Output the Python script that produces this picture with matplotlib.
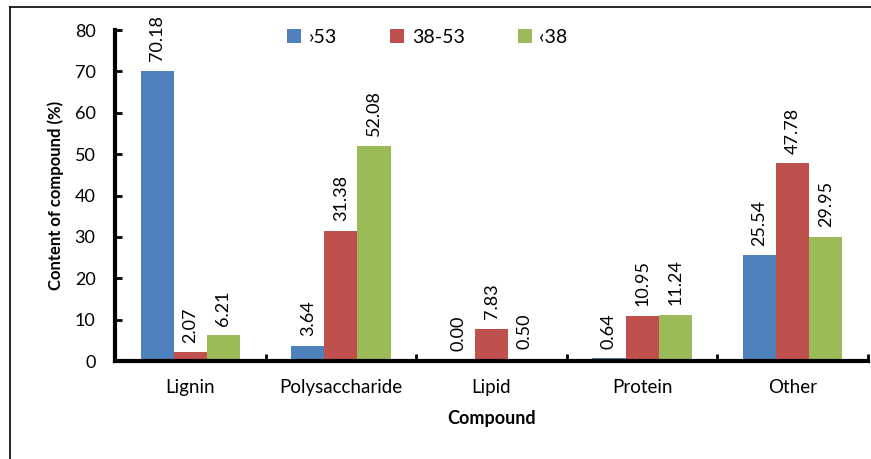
import numpy as np
import matplotlib.pyplot as plt
from matplotlib.lines import Line2D

plt.rcParams['font.family'] = ['Lato', 'DejaVu Sans']

categories = ['Lignin', 'Polysaccharide', 'Lipid', 'Protein', 'Other']
series_names = ['\u203a53', '38-53', '\u203938']
gt53 = [70.18, 3.64, 0.00, 0.64, 25.54]
mid = [2.07, 31.38, 7.83, 10.95, 47.78]
lt38 = [6.21, 52.08, 0.50, 11.24, 29.95]
colors = ['#4f81bd', '#c0504d', '#9bbb59']

fig = plt.figure(figsize=(8.71, 4.59), dpi=100)
ax = fig.add_axes([0.1320, 0.2135, 0.8646, 0.7211])

x = np.arange(len(categories))
width = 0.22
for i, (vals, name, c) in enumerate(zip([gt53, mid, lt38], series_names, colors)):
    pos = x + (i - 1) * width
    ax.bar(pos, vals, width, color=c, label=name, edgecolor='none')
    for px, v in zip(pos, vals):
        ax.annotate(f'{v:.2f}', (px, v), xytext=(0, 7), textcoords='offset points',
                    rotation=90, ha='center', va='bottom', fontsize=13)

ax.set_xlim(-0.5, len(categories) - 0.5)
ax.set_ylim(0, 80)
ax.set_yticks(range(0, 81, 10))
ax.set_xticks(x)
ax.set_xticklabels(categories, fontsize=13.5)
ax.tick_params(axis='x', length=0, pad=13)
ax.set_xticks(np.arange(-0.5, len(categories)), minor=True)
ax.tick_params(axis='x', which='minor', direction='in', length=5, width=2)
ax.tick_params(axis='y', direction='in', length=5, width=2, labelsize=13, pad=14)

for s in ['top', 'right']:
    ax.spines[s].set_visible(False)
for s in ['left', 'bottom']:
    ax.spines[s].set_linewidth(3)

ax.set_ylabel('Content of compound (%)', fontsize=12, fontweight='bold', labelpad=8)
ax.set_xlabel('Compound', fontsize=13, fontweight='bold', labelpad=10)

ax.legend(loc='upper center', bbox_to_anchor=(0.415, 1.057), ncol=3, frameon=False,
          fontsize=14, handlelength=0.7, handleheight=0.7, columnspacing=2.75,
          handletextpad=0.4)

# outer chart frame (top and left edges)
fig.add_artist(Line2D([10 / 871, 10 / 871], [0, 1 - 7 / 459], color='black', lw=1.2,
                      transform=fig.transFigure))
fig.add_artist(Line2D([10 / 871, 1], [1 - 7 / 459, 1 - 7 / 459], color='black', lw=1.2,
                      transform=fig.transFigure))

fig.savefig('out.png', dpi=100)
